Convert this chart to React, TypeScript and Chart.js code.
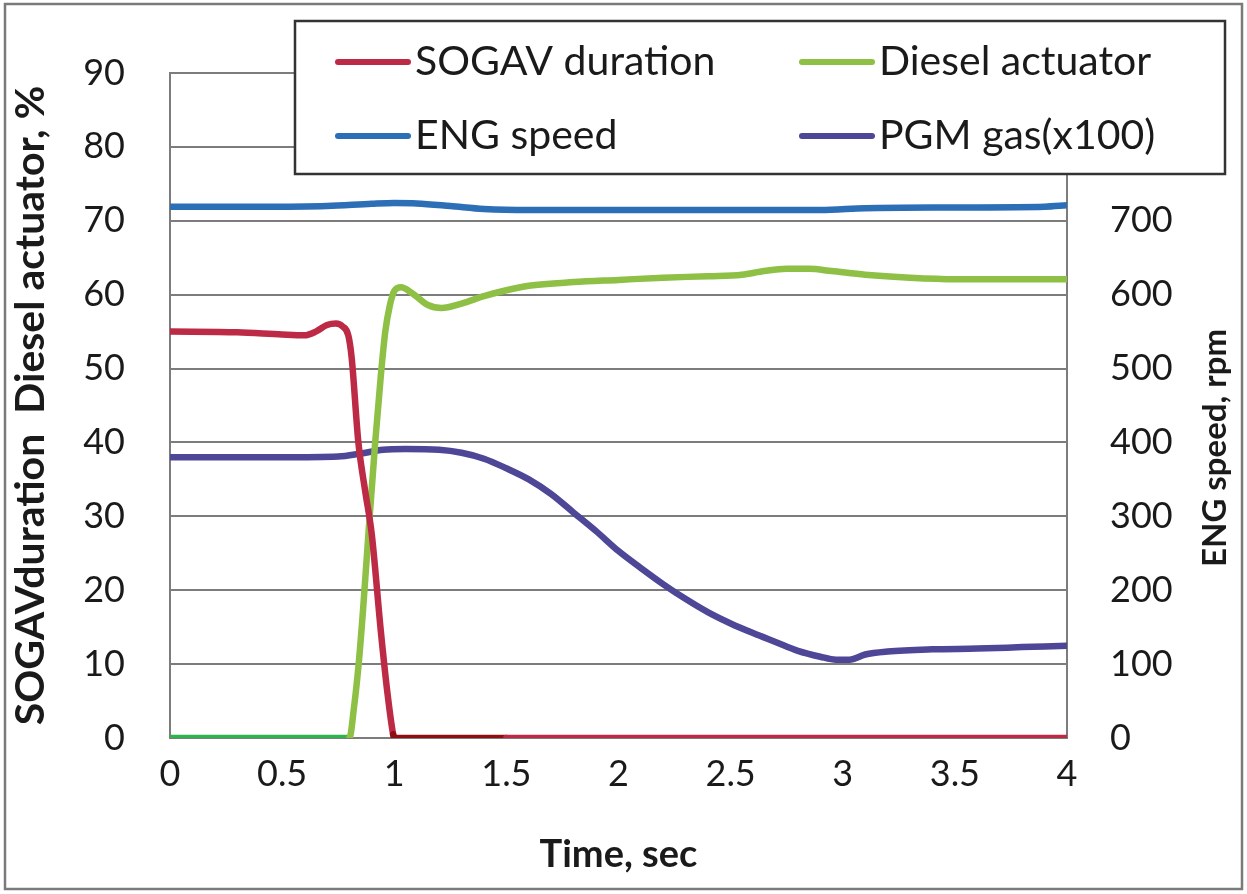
import React, { useEffect, useRef } from "react";
import { Chart, registerables } from "chart.js";
Chart.register(...registerables);

// ---- Data ----
const sogavTime = [0, 0.3, 0.5, 0.6, 0.65, 0.7, 0.74, 0.77, 0.795, 0.81, 0.84, 0.87, 0.9, 0.94, 0.97, 0.995, 1.0, 1.5, 2, 2.5, 3, 3.5, 4];
const sogavValues = [55, 54.9, 54.6, 54.5, 55, 55.9, 56.1, 55.7, 54.5, 51.5, 40, 33.5, 27.5, 14.5, 6, 0.5, 0, 0, 0, 0, 0, 0, 0];

const dieselTime = [0, 0.4, 0.8, 0.82, 0.84, 0.86, 0.885, 0.915, 0.94, 0.96, 0.98, 1.0, 1.03, 1.08, 1.15, 1.21, 1.3, 1.4, 1.5, 1.6, 1.8, 2.0, 2.2, 2.4, 2.55, 2.65, 2.75, 2.85, 2.95, 3.1, 3.3, 3.5, 4.0];
const dieselValues = [0, 0, 0, 4, 9.6, 17, 27.7, 40, 49, 55, 58.5, 60.5, 61, 60.2, 58.6, 58.2, 58.8, 59.8, 60.6, 61.2, 61.7, 62.0, 62.3, 62.5, 62.7, 63.2, 63.5, 63.5, 63.2, 62.7, 62.3, 62.1, 62.1];

const engTime = [0, 0.4, 0.7, 0.9, 1.0, 1.1, 1.25, 1.4, 1.6, 2.0, 2.5, 2.9, 3.1, 3.5, 3.9, 4.0];
const engValues = [719, 719, 720, 723, 724, 723.5, 720, 716, 714.5, 714.5, 714.5, 714.5, 717, 718, 719, 721];

const pgmTime = [0, 0.5, 0.75, 0.85, 0.95, 1.05, 1.2, 1.3, 1.4, 1.5, 1.6, 1.7, 1.8, 1.9, 2.0, 2.1, 2.2, 2.3, 2.4, 2.5, 2.6, 2.7, 2.8, 2.9, 2.97, 3.03, 3.1, 3.2, 3.4, 3.6, 3.8, 4.0];
const pgmValues = [38, 38, 38.1, 38.5, 39, 39.1, 39, 38.6, 37.8, 36.5, 35, 33, 30.5, 28, 25.3, 23, 20.8, 18.8, 17, 15.5, 14.2, 13, 11.8, 11, 10.6, 10.6, 11.3, 11.7, 12, 12.1, 12.3, 12.5];

const xTickStep = 0.5;
const leftTickStep = 10;
const rightTickStep = 100;
const rightVisibleMax = 700;

const legendLabels = ["SOGAV duration", "Diesel actuator", "ENG speed", "PGM gas(x100)"];

const RED = "#BC2A45";
const RED_DARK = "#8E0E12";
const GREEN = "#8DC044";
const GREEN_EARLY = "#2FB34C";
const BLUE = "#2C6FB7";
const PURPLE = "#4E4696";
const GRID = "#7c7c7c";
const TEXT = "#1a1a1a";

const pts = (t: number[], v: number[]) => t.map((x, i) => ({ x, y: v[i] }));

const framePlugin = {
  id: "frame",
  beforeDraw(chart: any) {
    const { ctx, width, height } = chart;
    ctx.save();
    ctx.fillStyle = "#ffffff";
    ctx.fillRect(0, 0, width, height);
    ctx.strokeStyle = "#7a7a7a";
    ctx.lineWidth = 2.5;
    ctx.strokeRect(5, 4, width - 10, height - 9);
    ctx.restore();
  },
  afterDraw(chart: any) {
    const { ctx } = chart;
    ctx.save();
    // legend box
    const lx = 295, ly = 21, lw = 930, lh = 153;
    ctx.fillStyle = "#ffffff";
    ctx.fillRect(lx, ly, lw, lh);
    ctx.strokeStyle = "#333333";
    ctx.lineWidth = 2.5;
    ctx.strokeRect(lx, ly, lw, lh);
    const items = [
      { label: legendLabels[0], color: RED, x: 338, y: 62 },
      { label: legendLabels[1], color: GREEN, x: 802, y: 62 },
      { label: legendLabels[2], color: BLUE, x: 338, y: 136 },
      { label: legendLabels[3], color: PURPLE, x: 802, y: 136 },
    ];
    ctx.font = "41px Lato";
    ctx.textBaseline = "middle";
    ctx.textAlign = "left";
    for (const it of items) {
      ctx.strokeStyle = it.color;
      ctx.lineWidth = 6;
      ctx.lineCap = "round";
      ctx.beginPath();
      ctx.moveTo(it.x, it.y);
      ctx.lineTo(it.x + 70, it.y);
      ctx.stroke();
      ctx.fillStyle = TEXT;
      ctx.fillText(it.label, it.x + 77, it.y);
    }
    // right axis title (reads bottom-to-top)
    ctx.translate(1215, 448);
    ctx.rotate(-Math.PI / 2);
    ctx.font = "bold 33px Lato";
    ctx.textAlign = "center";
    ctx.fillStyle = TEXT;
    ctx.fillText("ENG speed, rpm", 0, 0);
    ctx.restore();
  },
};

export default function App() {
  const ref = useRef<HTMLCanvasElement>(null);
  useEffect(() => {
    document.body.style.margin = "0";
    const canvas = ref.current;
    if (!canvas) return;
    const chart = new Chart(canvas, {
      type: "line",
      data: {
        datasets: [
          {
            label: legendLabels[0],
            data: pts(sogavTime, sogavValues),
            yAxisID: "y",
            borderColor: RED,
            segment: {
              borderColor: (c: any) =>
                c.p0.parsed.x >= 0.99 && c.p0.parsed.x < 1.5 ? RED_DARK : RED,
            },
          },
          {
            label: legendLabels[1],
            data: pts(dieselTime, dieselValues),
            yAxisID: "y",
            borderColor: GREEN,
            segment: {
              borderColor: (c: any) => (c.p0.parsed.x < 0.8 ? GREEN_EARLY : GREEN),
            },
          },
          {
            label: legendLabels[3],
            data: pts(pgmTime, pgmValues),
            yAxisID: "y",
            borderColor: PURPLE,
          },
          {
            label: legendLabels[2],
            data: pts(engTime, engValues),
            yAxisID: "y2",
            borderColor: BLUE,
          },
        ],
      },
      options: {
        animation: false,
        responsive: false,
        layout: { padding: { top: 73, left: 0, right: 0, bottom: 0 } },
        plugins: { legend: { display: false }, tooltip: { enabled: false } },
        elements: {
          point: { radius: 0 },
          line: { borderWidth: 6.5, cubicInterpolationMode: "monotone", borderCapStyle: "round" },
        },
        scales: {
          x: {
            type: "linear",
            min: 0,
            max: 4,
            grid: { display: false, drawTicks: false },
            border: { display: false },
            ticks: {
              stepSize: xTickStep,
              padding: 15,
              color: TEXT,
              font: { family: "Lato", size: 36 },
              maxRotation: 0,
              autoSkip: false,
              callback: (v: any) => String(Number(v)),
            },
            title: {
              display: true,
              text: "Time, sec",
              color: TEXT,
              font: { family: "Lato", size: 38, weight: "bold" },
              padding: { top: 0, bottom: 16 },
            },
            afterFit: (s: any) => {
              s.height = 156;
            },
          },
          y: {
            position: "left",
            min: 0,
            max: 90,
            grid: { color: GRID, lineWidth: 2, drawTicks: false },
            border: { display: true, color: GRID, width: 2 },
            ticks: {
              stepSize: leftTickStep,
              padding: 45,
              color: TEXT,
              font: { family: "Lato", size: 36 },
            },
            title: {
              display: true,
              text: "SOGAVduration  Diesel actuator, %",
              color: TEXT,
              font: { family: "Lato", size: 41, weight: "bold" },
              padding: { top: 6, bottom: 0 },
            },
            afterFit: (s: any) => {
              s.width = 170;
            },
          },
          y2: {
            position: "right",
            min: 0,
            max: 900,
            grid: { display: false, drawTicks: false },
            border: { display: true, color: GRID, width: 2 },
            ticks: {
              stepSize: rightTickStep,
              padding: 43,
              color: TEXT,
              font: { family: "Lato", size: 36 },
              callback: (v: any) => (Number(v) <= rightVisibleMax ? String(v) : ""),
            },
            afterFit: (s: any) => {
              s.width = 180;
            },
          },
        },
      } as any,
      plugins: [framePlugin],
    });
    return () => chart.destroy();
  }, []);
  return <canvas ref={ref} width={1247} height={894} style={{ display: "block" }} />;
}
